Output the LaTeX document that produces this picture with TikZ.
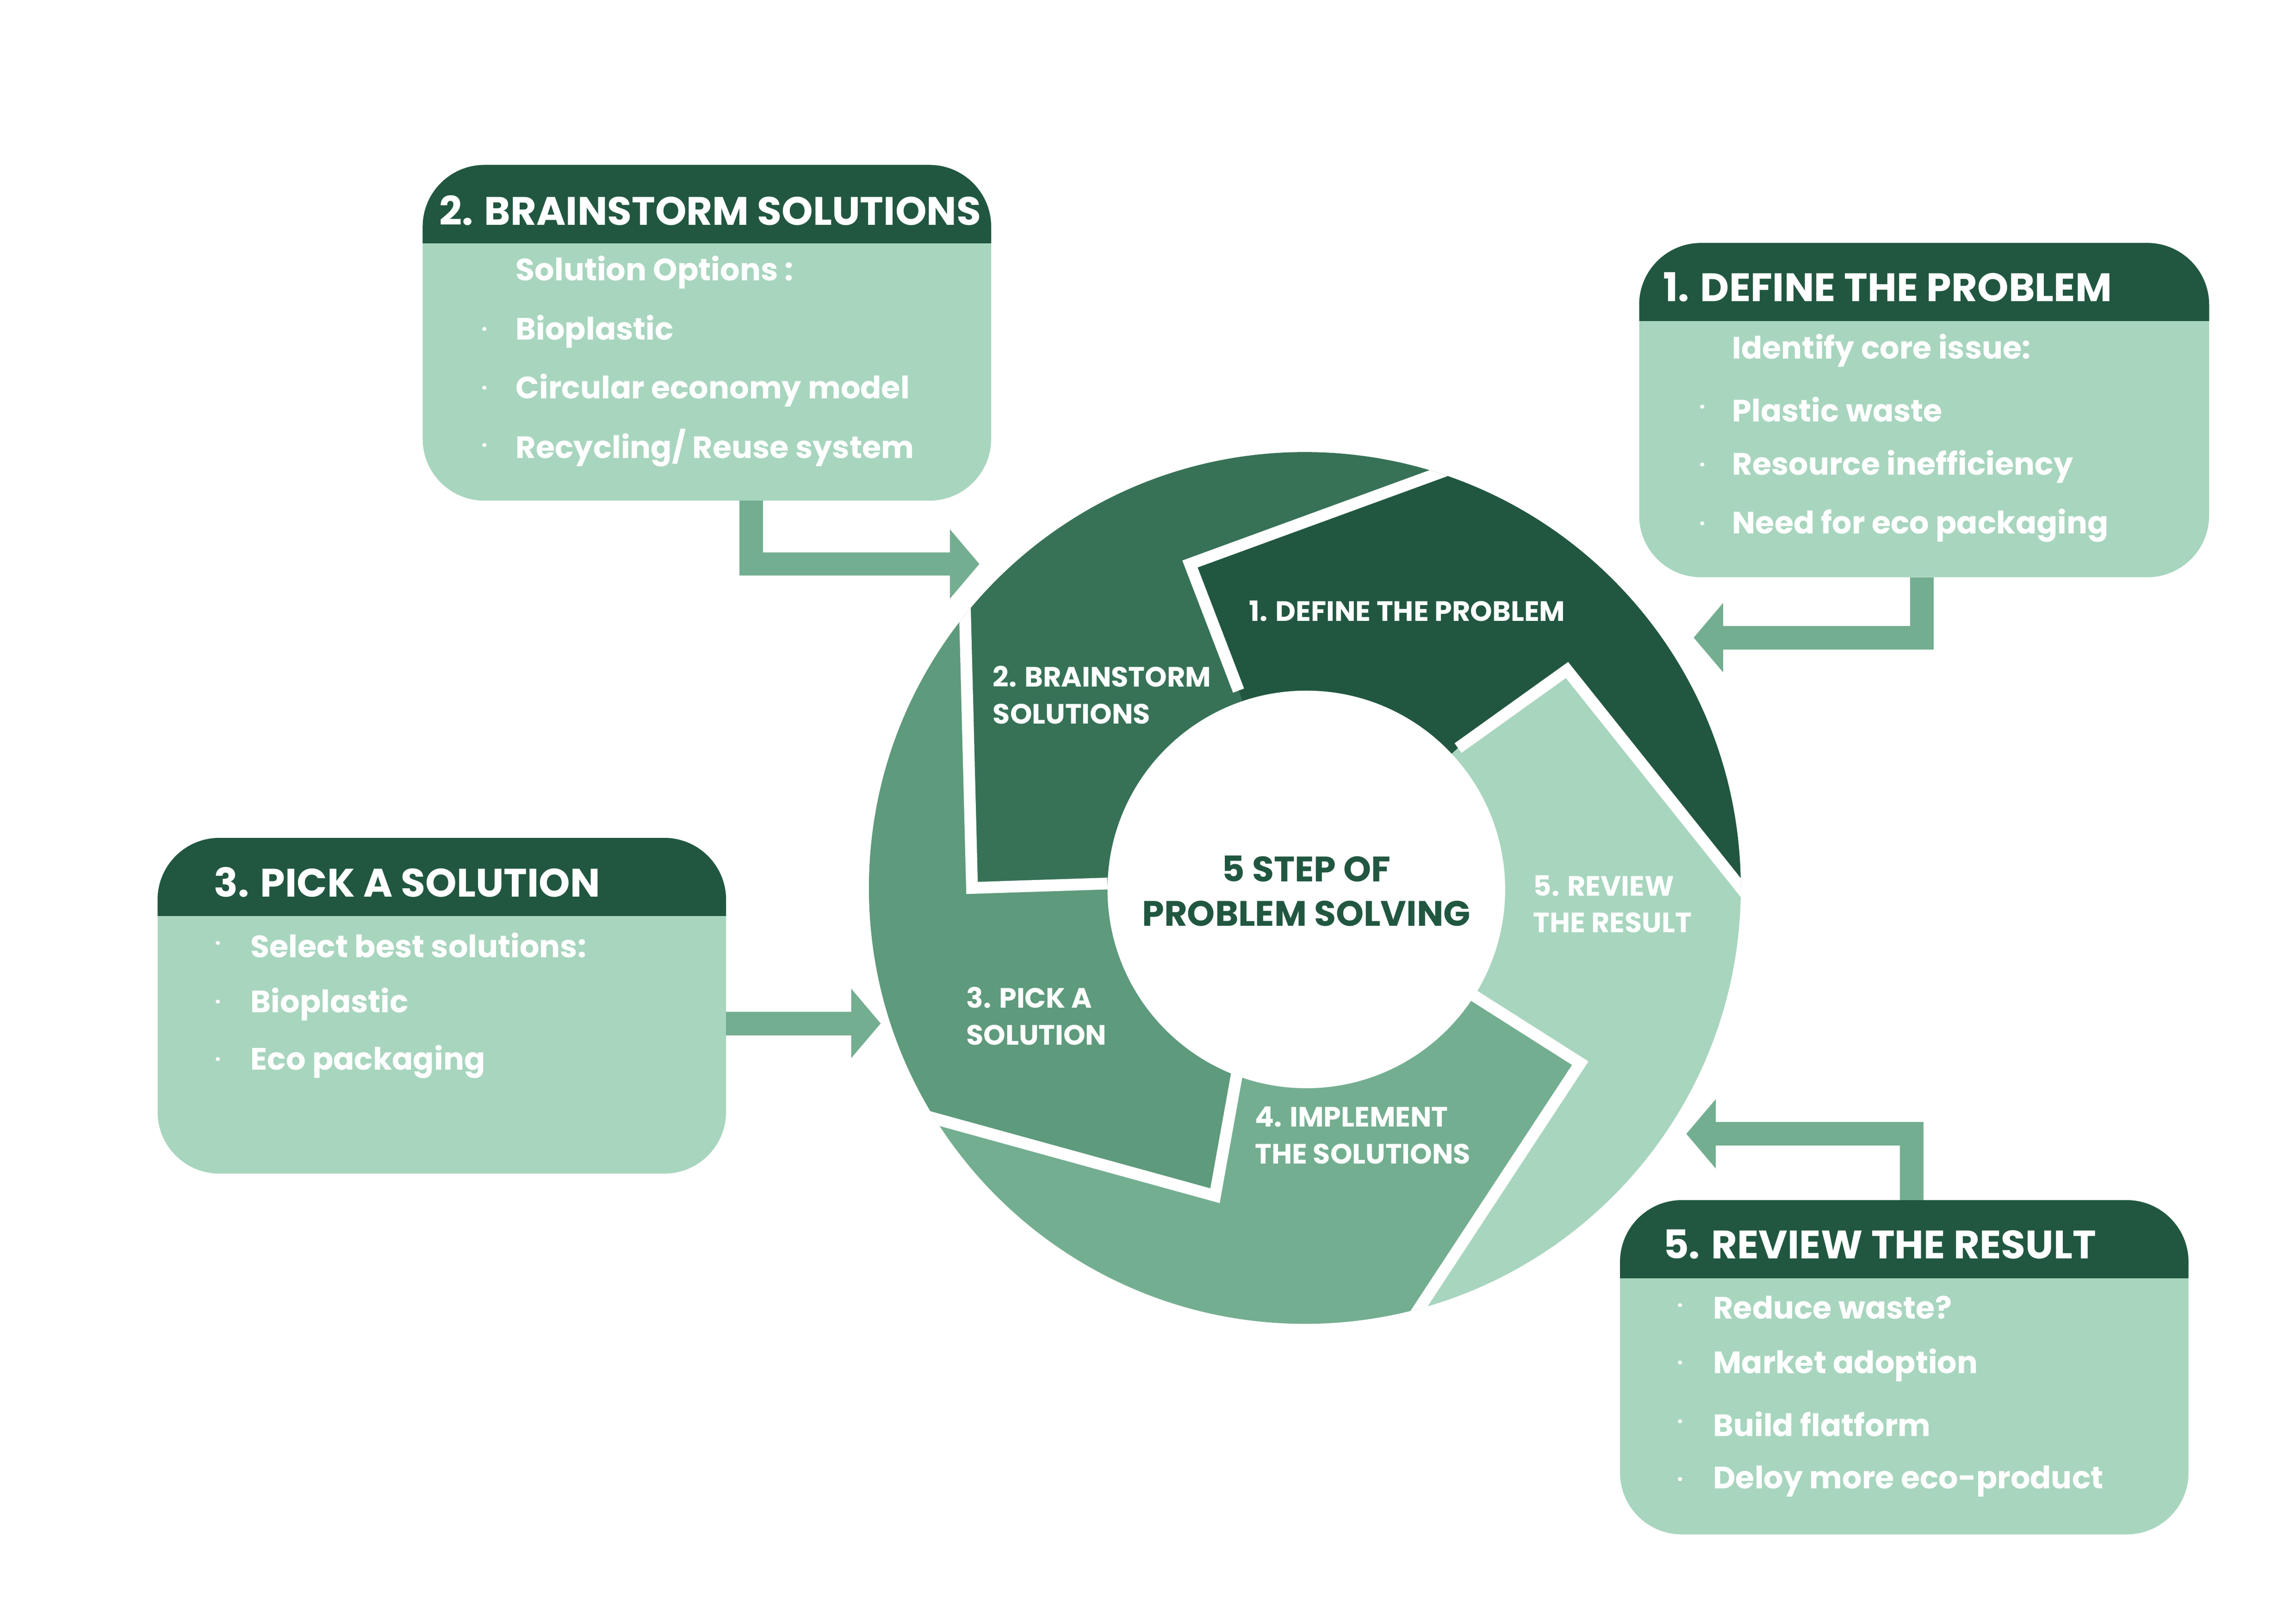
\documentclass[tikz,border=0pt]{standalone}
\usepackage{fontspec}
\setmainfont{Poppins}
\usetikzlibrary{arrows.meta}
\definecolor{c1}{HTML}{215740}
\definecolor{c2}{HTML}{377257}
\definecolor{c3}{HTML}{5E9A7C}
\definecolor{c4}{HTML}{74AE91}
\definecolor{c5}{HTML}{A8D5BE}
\begin{document}
\begin{tikzpicture}[x=1pt,y=-1pt,
  lab/.style={anchor=west,text=white,font=\fontsize{19}{25}\selectfont\bfseries,align=left,inner sep=0},
  head/.style={anchor=west,text=white,font=\fontsize{27}{30}\selectfont\bfseries,inner sep=0},
  item/.style={anchor=west,text=white,font=\fontsize{21}{24}\selectfont\bfseries,inner sep=0},
  dot/.style={anchor=center,text=white,font=\fontsize{14}{14}\selectfont\bfseries,inner sep=0},
  arr/.style={draw=c4,line width=16pt,-{Triangle[width=46pt,length=20pt]}}]
\useasboundingbox (0,0) rectangle (1559,1102);
\fill[white] (0,0) rectangle (1559,1102);
\coordinate (C) at (886,603);
% wheel
\begin{scope}
\clip (C) circle (296);
\fill[c1] (C)--(841,469)--(808,383)--(1150,258)--(1350,400)--(1250,688)--(1064,455)--(990,508)--cycle;
\fill[c5] (C)--(990,508)--(1064,455)--(1250,688)--(1250,950)--(920,955)--(1073,722)--(999,675)--cycle;
\fill[c4] (C)--(999,675)--(1073,722)--(920,955)--(500,1000)--(520,728)--(825,812)--(841,723)--cycle;
\fill[c3] (C)--(841,723)--(825,812)--(520,728)--(450,250)--(651,250)--(660,603)--(752,600)--cycle;
\fill[c2] (C)--(752,600)--(660,603)--(651,250)--(900,150)--(1150,258)--(808,383)--(841,469)--cycle;
\begin{scope}[draw=white,line width=8pt,line join=miter]
\draw (841,469)--(808,383)--(1150,258);
\draw (990,508)--(1064,455)--(1250,688);
\draw (999,675)--(1073,722)--(920,955);
\draw (841,723)--(825,812)--(520,728);
\draw (752,600)--(660,603)--(651,250);
\end{scope}
\end{scope}
\fill[white] (887,604) circle (135);
\node[lab] (w1) at (848,415) {1. DEFINE THE PROBLEM};
\node[lab] (w2) at (674,472) {2. BRAINSTORM\\SOLUTIONS};
\node[lab] (w3) at (656,690) {3. PICK A\\SOLUTION};
\node[lab] (w4) at (852,771) {4. IMPLEMENT\\THE SOLUTIONS};
\node[lab] (w5) at (1041,614) {5. REVIEW\\THE RESULT};
\node[anchor=center,text=c1,font=\fontsize{24}{30}\selectfont\bfseries,align=center,inner sep=0] (ctr) at (887,605) {5 STEP OF\\PROBLEM SOLVING};
% boxes
\newcommand{\stepbox}[6]{% name, x1,y1,x2,y2, headerbottom
  \fill[c5,rounded corners=42pt] (#2,#3) rectangle (#4,#5);
  \begin{scope}\clip (#2,#3) rectangle (#4,#6);
  \fill[c1,rounded corners=42pt] (#2,#3) rectangle (#4,#5);\end{scope}
  \coordinate (#1) at (#2,#3);}
\stepbox{b2}{287}{112}{673}{340}{165}
\stepbox{b1}{1113}{165}{1500}{392}{218}
\stepbox{b3}{107}{569}{493}{797}{622}
\stepbox{b5}{1100}{815}{1486}{1042}{868}
\node[head] (h2) at (298,143) {2. BRAINSTORM SOLUTIONS};
\node[head] (h1) at (1129,195) {1. DEFINE THE PROBLEM};
\node[head] (h3) at (145,599) {3. PICK A SOLUTION};
\node[head] (h5) at (1129,845) {5. REVIEW THE RESULT};
% box 2 items
\node[item] (t20) at (350,185) {Solution Options :};
\node[dot] at (329,225) {·}; \node[item] at (350,225) {Bioplastic};
\node[dot] at (329,265) {·}; \node[item] at (350,265) {Circular economy model};
\node[dot] at (329,304) {·}; \node[item] at (350,304) {Recycling/ Reuse system};
% box 1 items
\node[item] at (1176,238) {Identify core issue:};
\node[dot] at (1156,278) {·}; \node[item] at (1176,278) {Plastic waste};
\node[dot] at (1156,317) {·}; \node[item] at (1176,317) {Resource inefficiency};
\node[dot] at (1156,357) {·}; \node[item] at (1176,357) {Need for eco packaging};
% box 3 items
\node[dot] at (148,642) {·}; \node[item] at (170,642) {Select best solutions:};
\node[dot] at (148,682) {·}; \node[item] at (170,682) {Bioplastic};
\node[dot] at (148,721) {·}; \node[item] at (170,721) {Eco packaging};
% box 5 items
\node[dot] at (1141,888) {·}; \node[item] at (1163,888) {Reduce waste?};
\node[dot] at (1141,927) {·}; \node[item] at (1163,927) {Market adoption};
\node[dot] at (1141,967) {·}; \node[item] at (1163,967) {Build flatform};
\node[dot] at (1141,1006) {·}; \node[item] at (1163,1006) {Deloy more eco-product};
% arrows
\coordinate (a2s) at (510,340); \coordinate (a2e) at (665,383);
\coordinate (a1s) at (1305,392); \coordinate (a1e) at (1150,433);
\coordinate (a3s) at (493,695); \coordinate (a3e) at (598,695);
\coordinate (a5s) at (1298,815); \coordinate (a5e) at (1145,770);
\draw[arr] (a2s) |- (a2e);
\draw[arr] (a1s) |- (a1e);
\draw[arr] (a3s) -- (a3e);
\draw[arr] (a5s) |- (a5e);
\end{tikzpicture}
\end{document}
